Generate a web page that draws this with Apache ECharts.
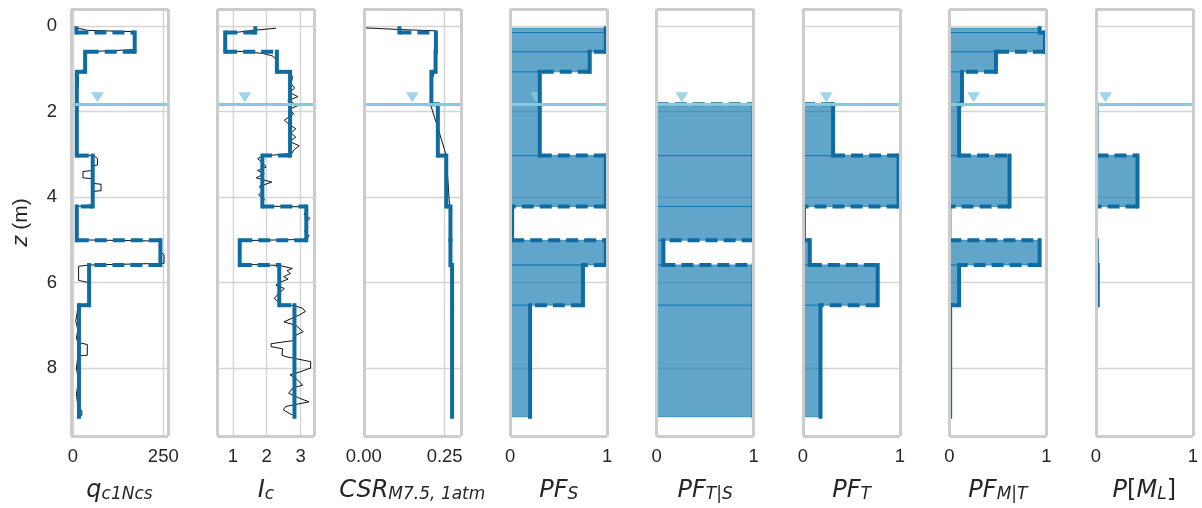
<!DOCTYPE html>
<html>
<head>
<meta charset="utf-8">
<script src="https://cdn.jsdelivr.net/npm/echarts@6/dist/echarts.min.js"></script>
<style>
  html, body { margin: 0; padding: 0; background: #ffffff; }
  #chart { width: 1202px; height: 508px; }
</style>
</head>
<body>
<div id="chart"></div>
<script>
// Layer boundaries (m): layer i spans depthBounds[i] .. depthBounds[i + 1]
const depthBounds = [0.05, 0.15, 0.6, 1.07, 1.83, 3.03, 4.22, 5.01, 5.59, 6.53, 9.14];
const waterDepth = 1.83;
const depthTicks = [0, 2, 4, 6, 8];

// Layer-representative values (one per layer, null = not defined)
const qc1NcsLayers = [10, 171, 34, 11, 11, 55, 11, 242, 45, 17];
const IcLayers = [1.66, 0.77, 2.3, 2.69, 2.69, 1.87, 3.17, 1.2, 2.37, 2.82];
const CSRLayers = [0.110, 0.223, 0.222, 0.209, 0.229, 0.255, 0.268, 0.268, 0.273, 0.273];
const PF_S = [0.985, 0.985, 0.82, 0.305, 0.305, 0.985, 0.02, 0.985, 0.75, 0.205];
const PF_TgivenS = [null, null, null, null, 1, 1, 1, 0.07, 1, 1];
const PF_T = [null, null, null, null, 0.31, 0.985, 0.01, 0.07, 0.77, 0.18];
const PF_MgivenT = [0.93, 0.985, 0.48, 0.13, 0.10, 0.62, 0, 0.93, 0.10, 0.008];
const P_ML = [null, null, null, null, 0.007, 0.43, 0, 0.01, 0.02, 0];

// CPT profiles as [value, depth] pairs
const qc1NcsRaw = [
  [10, 0.04], [40, 0.10], [170, 0.13], [172, 0.20], [172, 0.55], [40, 0.60], [35, 0.65], [33, 1.00],
  [14, 1.10], [16, 1.30], [12, 1.60], [11, 2.00], [10, 2.50], [10, 3.00], [58, 3.03], [68, 3.10],
  [68, 3.25], [55, 3.27], [55, 3.38], [28, 3.40], [28, 3.55], [55, 3.57], [55, 3.68], [78, 3.70],
  [78, 3.85], [55, 3.87], [55, 4.18], [12, 4.22], [11, 4.60], [12, 5.00], [240, 5.03], [245, 5.30],
  [252, 5.35], [252, 5.55], [44, 5.59], [16, 5.62], [16, 5.95], [44, 6.00], [44, 6.50], [14, 6.53],
  [12, 6.70], [8, 6.90], [14, 7.10], [10, 7.30], [14, 7.40], [40, 7.45], [40, 7.70], [14, 7.72],
  [10, 8.00], [16, 8.30], [10, 8.60], [14, 8.90], [25, 9.00], [25, 9.10], [18, 9.14]
];
const IcRaw = [
  [2.27, 0.05], [1.6, 0.10], [1.0, 0.155], [0.78, 0.17], [0.75, 0.30], [0.78, 0.45], [0.76, 0.58],
  [1.39, 0.60], [1.88, 0.64], [2.18, 0.70], [2.27, 0.78], [2.3, 0.90], [2.3, 1.05], [2.71, 1.08],
  [2.76, 1.20], [2.72, 1.35], [2.83, 1.45], [2.67, 1.55], [2.92, 1.65], [2.62, 1.75], [2.95, 1.85],
  [2.66, 1.95], [2.8, 2.05], [2.52, 2.20], [2.66, 2.30], [2.86, 2.40], [2.72, 2.50], [2.86, 2.60],
  [2.68, 2.70], [2.96, 2.80], [2.8, 2.90], [2.74, 2.98], [1.88, 3.04], [1.73, 3.10], [1.88, 3.20],
  [1.98, 3.30], [1.73, 3.38], [1.93, 3.45], [1.69, 3.55], [2.15, 3.65], [1.78, 3.75], [1.88, 3.85],
  [1.76, 3.95], [1.93, 4.05], [1.86, 4.15], [1.85, 4.21], [3.15, 4.23], [3.22, 4.30], [3.1, 4.40],
  [3.28, 4.50], [3.15, 4.60], [3.22, 4.70], [3.12, 4.80], [3.25, 4.90], [3.18, 4.99], [1.22, 5.02],
  [1.2, 5.30], [1.22, 5.57], [2.37, 5.60], [2.76, 5.67], [2.6, 5.72], [2.7, 5.79], [2.5, 5.86],
  [2.63, 5.92], [2.37, 6.00], [2.27, 6.06], [2.52, 6.14], [2.35, 6.26], [2.22, 6.37], [2.37, 6.47],
  [2.4, 6.52], [2.81, 6.54], [3.06, 6.60], [3.14, 6.68], [2.96, 6.76], [2.51, 6.92], [2.86, 7.00],
  [3.08, 7.15], [2.81, 7.25], [2.86, 7.35], [2.13, 7.43], [2.13, 7.50], [2.47, 7.55], [2.45, 7.70],
  [2.6, 7.74], [3.3, 7.85], [3.3, 8.00], [2.98, 8.09], [2.69, 8.16], [2.86, 8.24], [3.06, 8.40],
  [2.76, 8.47], [2.65, 8.59], [2.98, 8.71], [3.25, 8.79], [2.56, 8.90], [2.49, 8.98], [2.76, 9.10]
];
const CSRRaw = [
  [0, 0.04], [0.11, 0.08], [0.222, 0.11], [0.224, 0.50], [0.22, 1.00], [0.21, 1.30], [0.206, 1.83],
  [0.23, 2.40], [0.255, 3.03], [0.26, 3.60], [0.266, 4.30], [0.27, 5.50], [0.273, 7.00], [0.275, 9.14]
];

// Where the water-table marker sits along each x axis
const waterMarkX = [68, 1.35, 0.15, 0.27, 0.26, 0.24, 0.25, 0.1];

const INK = '#262626';
const GRID_LINE = '#d4d4d4';
const FRAME = '#cccccc';
const PROFILE = '#0e6ca2';
const FILL = 'rgba(1, 110, 170, 0.62)';
const WATER = '#89c9de';
const Y_MIN = -0.4, Y_MAX = 9.59;

const panels = [
  { name: '{i|q}{s|c1Ncs}', min: -5, max: 263, ticks: [0, 250], fmt: v => String(v), layers: qc1NcsLayers, raw: qc1NcsRaw },
  { name: '{i|I}{s|c}', min: 0.54, max: 3.41, ticks: [1, 2, 3], fmt: v => String(v), layers: IcLayers, raw: IcRaw },
  { name: '{i|CSR}{s|M7.5, 1atm}', min: 0, max: 0.3, ticks: [0, 0.25], fmt: v => v.toFixed(2), layers: CSRLayers, raw: CSRRaw },
  { name: '{i|PF}{s|S}', min: 0, max: 1, ticks: [0, 1], fmt: v => String(v), layers: PF_S, fill: PF_S },
  { name: '{i|PF}{s|T|S}', min: 0, max: 1, ticks: [0, 1], fmt: v => String(v), layers: PF_TgivenS, fill: PF_TgivenS },
  { name: '{i|PF}{s|T}', min: 0, max: 1, ticks: [0, 1], fmt: v => String(v), layers: PF_T, fill: PF_T.map(v => v == null ? 0 : v) },
  { name: '{i|PF}{s|M|T}', min: 0, max: 1, ticks: [0, 1], fmt: v => String(v), layers: PF_MgivenT, fill: PF_MgivenT },
  { name: '{i|P}{r|[}{i|M}{s|L}{r|]}', min: 0, max: 1, ticks: [0, 1], fmt: v => String(v), layers: P_ML, fill: P_ML.map(v => v == null ? 0 : v) }
];

const PANEL_LEFT = 71, PANEL_STEP = 146.4, PANEL_W = 97, PANEL_TOP = 9, PANEL_H = 427;

const nameRich = {
  i: { fontFamily: 'DejaVu Sans', fontStyle: 'italic', fontSize: 24, color: INK, lineHeight: 30, verticalAlign: 'bottom' },
  r: { fontFamily: 'DejaVu Sans', fontSize: 24, color: INK, lineHeight: 30, verticalAlign: 'bottom' },
  s: { fontFamily: 'DejaVu Sans', fontStyle: 'italic', fontSize: 17, color: INK, lineHeight: 14, verticalAlign: 'bottom' }
};

// Step profile split into solid verticals (within layers) and dashed horizontals (at boundaries)
function stepSegments(values) {
  const segs = [];
  values.forEach((v, i) => {
    if (i > 0) {
      const a = values[i - 1];
      if (a != null || v != null) {
        const x0 = a == null ? 0 : a, x1 = v == null ? 0 : v;
        if (x0 !== x1) segs.push([x0, depthBounds[i], x1, depthBounds[i], 1]);
      }
    }
    if (v != null) segs.push([v, depthBounds[i], v, depthBounds[i + 1], 0]);
  });
  // verticals first so dashes sit on top at the corners
  return segs.filter(s => s[4] === 0).concat(segs.filter(s => s[4] === 1));
}

function fillData(values) {
  const out = [];
  values.forEach((v, i) => { if (v != null) out.push([v, depthBounds[i], depthBounds[i + 1]]); });
  return out;
}

const grids = [], xAxes = [], yAxes = [], series = [];

panels.forEach((p, gi) => {
  grids.push({ left: PANEL_LEFT + gi * PANEL_STEP, top: PANEL_TOP, width: PANEL_W, height: PANEL_H, show: false, outerBoundsMode: 'none' });

  xAxes.push({
    gridIndex: gi, type: 'value', min: p.min, max: p.max, position: 'bottom',
    name: p.name, nameLocation: 'middle', nameGap: 37, nameMoveOverlap: false,
    nameTextStyle: { rich: nameRich },
    axisLine: { show: false },
    axisTick: { show: false, customValues: p.ticks },
    axisLabel: { customValues: p.ticks, formatter: p.fmt, margin: 11, fontFamily: 'Liberation Sans', fontSize: 18.5, color: INK, showMinLabel: true, showMaxLabel: true },
    splitLine: { show: true, lineStyle: { color: GRID_LINE, width: 1.4 } }
  });

  yAxes.push({
    gridIndex: gi, type: 'value', min: Y_MIN, max: Y_MAX, inverse: true, position: 'left',
    name: gi === 0 ? '{i|z} (m)' : '', nameLocation: 'middle', nameGap: 39, nameMoveOverlap: false,
    nameTextStyle: { fontFamily: 'Liberation Sans', fontSize: 21, color: INK, rich: { i: { fontFamily: 'DejaVu Sans', fontStyle: 'italic', fontSize: 21, color: INK } } },
    axisLine: { show: false },
    axisTick: { show: false, customValues: depthTicks },
    axisLabel: { show: gi === 0, customValues: depthTicks, margin: 14, fontFamily: 'Liberation Sans', fontSize: 18.5, color: INK },
    splitLine: { show: true, lineStyle: { color: GRID_LINE, width: 1.4 } }
  });

  if (p.fill) {
    series.push({
      type: 'custom', xAxisIndex: gi, yAxisIndex: gi, z: 2, clip: true, silent: true,
      encode: { x: 0, y: [1, 2] },
      data: fillData(p.fill),
      renderItem(params, api) {
        const a = api.coord([0, api.value(1)]);
        const b = api.coord([api.value(0), api.value(2)]);
        return {
          type: 'rect',
          shape: { x: a[0], y: a[1], width: b[0] - a[0], height: b[1] - a[1] },
          style: { fill: FILL, stroke: FILL, lineWidth: 1 }
        };
      }
    });
  }

  // water table line and marker
  series.push({
    type: 'scatter', xAxisIndex: gi, yAxisIndex: gi, z: 3, silent: true,
    symbol: 'triangle', symbolRotate: 180, symbolSize: [13, 10], symbolOffset: [0, -7],
    itemStyle: { color: WATER },
    data: [[waterMarkX[gi], waterDepth]],
    markLine: {
      silent: true, symbol: 'none', label: { show: false },
      lineStyle: { color: WATER, width: 3, type: 'solid' },
      data: [{ yAxis: waterDepth }]
    }
  });

  if (p.raw) {
    series.push({
      type: 'line', xAxisIndex: gi, yAxisIndex: gi, z: 3.5, silent: true,
      showSymbol: false, symbol: 'none', clip: true,
      lineStyle: { color: '#111111', width: 1 },
      data: p.raw
    });
  }

  series.push({
    type: 'custom', xAxisIndex: gi, yAxisIndex: gi, z: 4, clip: true, silent: true,
    encode: { x: [0, 2], y: [1, 3] },
    data: stepSegments(p.layers),
    renderItem(params, api) {
      const a = api.coord([api.value(0), api.value(1)]);
      const b = api.coord([api.value(2), api.value(3)]);
      const dashed = api.value(4) === 1;
      return {
        type: 'line',
        shape: { x1: a[0], y1: a[1], x2: b[0], y2: b[1] },
        style: { stroke: PROFILE, lineWidth: 4, lineDash: dashed ? [12, 6] : null, lineCap: dashed ? 'butt' : 'square' }
      };
    }
  });

  // panel frame
  series.push({
    type: 'line', xAxisIndex: gi, yAxisIndex: gi, z: 10, silent: true, clip: false,
    data: [],
    markLine: {
      silent: true, symbol: 'none', label: { show: false },
      lineStyle: { color: FRAME, width: 3, type: 'solid' },
      data: [{ xAxis: p.min }, { xAxis: p.max }, { yAxis: Y_MIN }, { yAxis: Y_MAX }]
    }
  });
});

const chart = echarts.init(document.getElementById('chart'), null, { renderer: 'canvas' });
chart.setOption({
  animation: false,
  backgroundColor: '#ffffff',
  grid: grids,
  xAxis: xAxes,
  yAxis: yAxes,
  series: series
});
</script>
</body>
</html>
